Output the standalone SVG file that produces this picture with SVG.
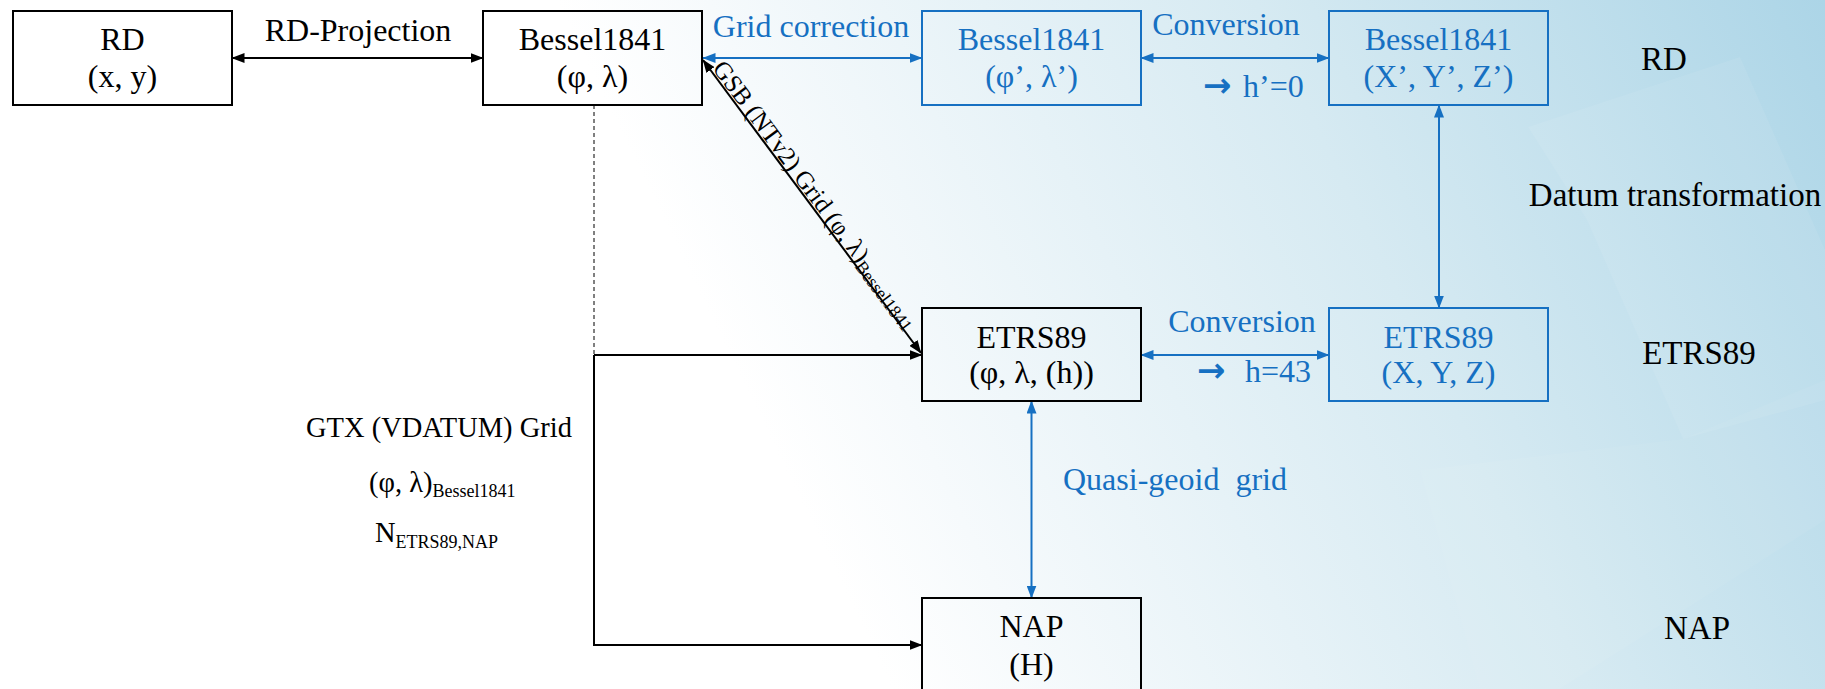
<svg xmlns="http://www.w3.org/2000/svg" width="1825" height="689" viewBox="0 0 1825 689">
<defs>
<linearGradient id="bg" gradientUnits="userSpaceOnUse" x1="800" y1="500" x2="1825" y2="0">
<stop offset="0" stop-color="#ffffff"/>
<stop offset="0.12" stop-color="#f6fafc"/>
<stop offset="0.55" stop-color="#d6eaf2"/>
<stop offset="1" stop-color="#acd5e7"/>
</linearGradient>
<marker id="ak" viewBox="0 0 13 10" refX="12.5" refY="5" markerWidth="13" markerHeight="10" markerUnits="userSpaceOnUse" orient="auto-start-reverse"><path d="M0,0 L13,5 L0,10 z" fill="#000"/></marker>
<marker id="ab" viewBox="0 0 13 10" refX="12.5" refY="5" markerWidth="13" markerHeight="10" markerUnits="userSpaceOnUse" orient="auto-start-reverse"><path d="M0,0 L13,5 L0,10 z" fill="#1670c2"/></marker>
<style>
text{font-family:'Liberation Serif','Times New Roman',serif;font-size:32px;fill:#000}
.c{text-anchor:middle}
.b{fill:#1670c2}
.ar{font-family:'DejaVu Sans',sans-serif;font-weight:bold;font-size:34px}
.bk{fill:none;stroke:#000;stroke-width:2}
.bl{fill:none;stroke:#1670c2;stroke-width:2}
.lk{fill:none;stroke:#000;stroke-width:2}
.lb{fill:none;stroke:#1670c2;stroke-width:2}
.sub{font-size:18px}
</style>
</defs>
<rect width="1825" height="689" fill="url(#bg)"/>
<g id="bgshapes" fill="#ffffff">
<polygon points="1528,127 1740,57 1825,250 1825,400 1683,439 1587,220" opacity="0.07"/>
<polygon points="1420,470 1683,439 1825,380 1825,520 1560,689 1480,689" opacity="0.05"/>
</g>

<g id="connectors">
<line class="lk" x1="232" y1="58" x2="483" y2="58" marker-start="url(#ak)" marker-end="url(#ak)"/>
<line class="lb" x1="703" y1="58" x2="922" y2="58" marker-start="url(#ab)" marker-end="url(#ab)"/>
<line class="lb" x1="1141" y1="58" x2="1329" y2="58" marker-start="url(#ab)" marker-end="url(#ab)"/>
<line class="lb" x1="1439" y1="105" x2="1439" y2="308" marker-start="url(#ab)" marker-end="url(#ab)"/>
<line class="lb" x1="1141" y1="355" x2="1329" y2="355" marker-start="url(#ab)" marker-end="url(#ab)"/>
<line class="lb" x1="1031.5" y1="401" x2="1031.5" y2="598" marker-start="url(#ab)" marker-end="url(#ab)"/>
<line class="lk" x1="703" y1="60" x2="921" y2="353" marker-start="url(#ak)" marker-end="url(#ak)"/>
<line x1="594" y1="105" x2="594" y2="355" stroke="#000" stroke-width="1" stroke-dasharray="4,3"/>
<polyline class="lk" points="594,355 922,355" marker-end="url(#ak)"/>
<polyline class="lk" points="594,355 594,645 922,645" marker-end="url(#ak)"/>
</g>

<g id="labels">
<text class="c" x="358" y="41">RD-Projection</text>
<text class="c b" x="811" y="37">Grid correction</text>
<text class="c b" x="1226" y="35">Conversion</text>
<text class="b" y="97"><tspan class="ar" x="1203">→</tspan><tspan x="1243">h’=0</tspan></text>
<text class="c b" x="1242" y="332">Conversion</text>
<text class="b" y="382"><tspan class="ar" x="1197">→</tspan><tspan x="1245">h=43</tspan></text>
<text class="b" x="1063" y="490" xml:space="preserve">Quasi-geoid  grid</text>
<g transform="translate(703,60) rotate(53.35)"><text x="12" y="-2" style="font-size:25px">GSB (NTv2) Grid (φ, λ)<tspan class="sub" dy="4">Bessel1841</tspan></text></g>
<text class="c" x="439" y="437" style="font-size:28.5px">GTX (VDATUM) Grid</text>
<text x="369" y="492" style="font-size:28.5px">(φ, λ)<tspan class="sub" dy="5">Bessel1841</tspan></text>
<text x="375" y="542" style="font-size:28.5px">N<tspan class="sub" dy="6">ETRS89,NAP</tspan></text>
<text class="c" x="1664" y="70" style="font-size:33px">RD</text>
<text class="c" x="1675" y="206" style="font-size:33px">Datum transformation</text>
<text class="c" x="1699" y="364" style="font-size:33px">ETRS89</text>
<text class="c" x="1697" y="639" style="font-size:33px">NAP</text>
</g>

<g id="n-rd"><rect class="bk" x="13" y="11" width="219" height="94"/><text class="c" x="122.5" y="50">RD</text><text class="c" x="122.5" y="87">(x, y)</text></g>
<g id="n-bessel"><rect class="bk" x="483" y="11" width="219" height="94"/><text class="c" x="592.5" y="50">Bessel1841</text><text class="c" x="592.5" y="87">(φ, λ)</text></g>
<g id="n-bessel-prime"><rect class="bl" x="922" y="11" width="219" height="94"/><text class="c b" x="1031.5" y="50">Bessel1841</text><text class="c b" x="1031.5" y="87">(φ’, λ’)</text></g>
<g id="n-bessel-xyz"><rect class="bl" x="1329" y="11" width="219" height="94"/><text class="c b" x="1438.5" y="50">Bessel1841</text><text class="c b" x="1438.5" y="87">(X’, Y’, Z’)</text></g>
<g id="n-etrs-geo"><rect class="bk" x="922" y="308" width="219" height="93"/><text class="c" x="1031.5" y="348">ETRS89</text><text class="c" x="1031.5" y="383">(φ, λ, (h))</text></g>
<g id="n-etrs-xyz"><rect class="bl" x="1329" y="308" width="219" height="93"/><text class="c b" x="1438.5" y="348">ETRS89</text><text class="c b" x="1438.5" y="383">(X, Y, Z)</text></g>
<g id="n-nap"><rect class="bk" x="922" y="598" width="219" height="120"/><text class="c" x="1031.5" y="637">NAP</text><text class="c" x="1031.5" y="675">(H)</text></g>
</svg>
